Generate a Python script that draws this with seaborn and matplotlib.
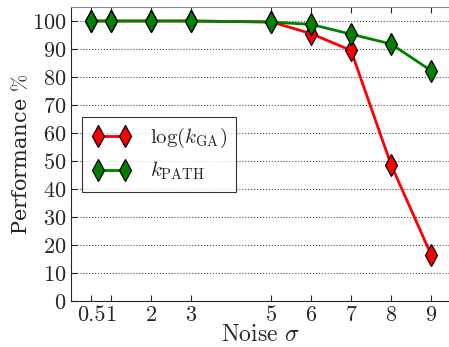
import matplotlib
matplotlib.use("Agg")
import matplotlib.pyplot as plt
import seaborn as sns
import pandas as pd

noise = [0.5, 1, 2, 3, 5, 6, 7, 8, 9]
k_ga = [100, 100, 100, 100, 99.7, 95.5, 89.5, 48.7, 16.6]
k_path = [100, 100, 100, 100, 99.6, 98.8, 95.3, 91.8, 82.3]
labels = [r"$\log(k_{\mathrm{GA}})$", r"$k_{\mathrm{PATH}}$"]
colors = ["red", "green"]
xticks = [0.5, 1, 2, 3, 5, 6, 7, 8, 9]
xticklabels = ["0.5", "1", "2", "3", "5", "6", "7", "8", "9"]
yticks = list(range(0, 101, 10))

sns.set_style("ticks")
plt.rcParams["font.family"] = ["serif"]
plt.rcParams["font.serif"] = ["cmr10", "DejaVu Serif"]
plt.rcParams["mathtext.fontset"] = "cm"
plt.rcParams["axes.formatter.use_mathtext"] = True

fig = plt.figure(figsize=(4.49, 3.47), dpi=100)
ax = fig.add_axes([71 / 449, 46 / 347, 380 / 449, 294 / 347])

df = pd.DataFrame({"noise": noise, "ga": k_ga, "path": k_path})
for col, lab, c in zip(["ga", "path"], labels, colors):
    sns.lineplot(data=df, x="noise", y=col, ax=ax, color=c, marker="d",
                 markersize=11, markeredgecolor="black", markeredgewidth=0.9,
                 linewidth=2, label=lab, zorder=3)

ax.set_xlim(0, 9.5)
ax.set_ylim(0, 105)
ax.set_yticks(yticks)
ax.set_xticks(xticks)
ax.set_xticklabels(xticklabels)
ax.tick_params(direction="in", top=True, right=False, labelsize=16, length=4)
ax.yaxis.grid(True, linestyle=":", color="0.3", linewidth=0.8)
ax.spines["top"].set_color("#888888")
ax.spines["right"].set_visible(False)
ax.set_xlabel(r"Noise $\sigma$", fontsize=17, labelpad=-1)
ax.set_ylabel(r"Performance $\%$", fontsize=15, family=["DejaVu Serif"], labelpad=0)

leg = ax.legend(loc="upper left", bbox_to_anchor=(0.029, 0.626), numpoints=2,
                fancybox=False, edgecolor="black", fontsize=15,
                handlelength=1.9, handletextpad=0.9, borderpad=0.45,
                labelspacing=0.45, borderaxespad=0)
leg.get_frame().set_linewidth(0.8)

fig.savefig("out.png", dpi=100)
